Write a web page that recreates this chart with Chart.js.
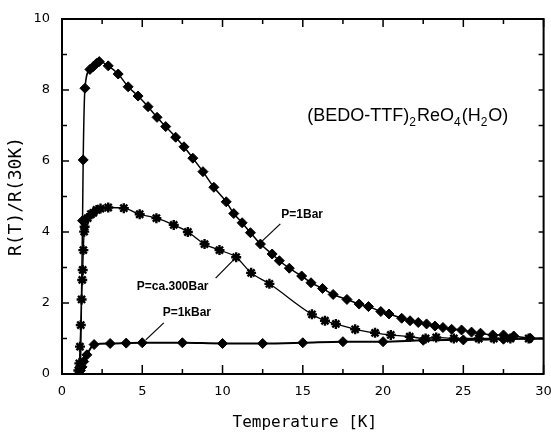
<!DOCTYPE html>
<html>
<head>
<meta charset="utf-8">
<script src="https://cdn.jsdelivr.net/npm/chart.js@4"></script>
<style>
  body { margin: 0; background: #fff; }
  canvas { display: block; }
</style>
</head>
<body>
<canvas id="chart" width="551" height="434"></canvas>
<script>
// values: temperature [K] and R(T)/R(30K)
const temp1Bar = [1.15, 1.28, 1.32, 1.43, 1.74, 1.95, 2.15, 2.32, 2.88, 3.5, 4.12, 4.74, 5.36, 5.92, 6.46, 7.08, 7.6, 8.15, 8.78, 9.46, 10.23, 10.7, 11.22, 11.74, 12.36, 13.09, 13.54, 14.16, 14.93, 15.51, 16.23, 16.89, 17.75, 18.51, 19.09, 19.86, 20.37, 21.16, 21.68, 22.19, 22.71, 23.23, 23.73, 24.27, 24.89, 25.51, 26.07, 26.83, 27.5, 28.14, 29.17, 30];
const r1Bar = [0.05, 4.32, 6.03, 8.05, 8.58, 8.66, 8.75, 8.8, 8.68, 8.45, 8.09, 7.83, 7.53, 7.23, 6.97, 6.67, 6.4, 6.08, 5.7, 5.26, 4.85, 4.52, 4.26, 3.98, 3.66, 3.38, 3.19, 2.98, 2.76, 2.57, 2.41, 2.24, 2.1, 1.97, 1.9, 1.76, 1.69, 1.57, 1.5, 1.45, 1.41, 1.35, 1.31, 1.26, 1.24, 1.18, 1.15, 1.1, 1.1, 1.07, 1.01, 1.0];

const temp300Bar = [1.02, 1.08, 1.12, 1.17, 1.22, 1.26, 1.29, 1.33, 1.38, 1.41, 1.44, 1.6, 1.8, 1.95, 2.15, 2.4, 2.88, 3.85, 4.84, 5.88, 6.96, 7.84, 8.88, 9.81, 10.85, 11.78, 12.92, 15.57, 16.38, 17.06, 18.26, 19.5, 20.48, 21.66, 22.65, 23.31, 24.41, 25.96, 26.9, 27.93, 29.07, 30];
const r300Bar = [0.1, 0.3, 0.77, 1.38, 2.1, 2.65, 2.93, 3.49, 4.01, 4.15, 4.34, 4.39, 4.5, 4.54, 4.62, 4.66, 4.69, 4.67, 4.5, 4.39, 4.2, 4.0, 3.66, 3.49, 3.29, 2.85, 2.54, 1.68, 1.5, 1.41, 1.26, 1.16, 1.1, 1.05, 1.0, 1.03, 1.0, 1.0, 1.0, 1.0, 1.0, 1.0];

const temp1kBar = [1.05, 1.15, 1.25, 1.35, 1.55, 2.0, 3.0, 4.0, 5.0, 7.5, 10, 12.5, 15, 17.5, 20, 22.5, 25, 27.5, 30];
const r1kBar = [0, 0.1, 0.2, 0.35, 0.54, 0.83, 0.86, 0.87, 0.88, 0.88, 0.86, 0.86, 0.88, 0.91, 0.91, 0.95, 0.96, 0.98, 1.0];

const xTicks = [0, 5, 10, 15, 20, 25, 30];
const yTicks = [0, 2, 4, 6, 8, 10];

const toPoints = (xs, ys) => xs.map((x, i) => ({ x: x, y: ys[i] }));

// labels with leader lines, placed in data coordinates
const notes = [
  { text: "P=1Bar", at: [13.66, 4.39], line: [[13.6, 4.23], [12.48, 3.75]] },
  { text: "P=ca.300Bar", at: [4.66, 2.37], line: [[10.81, 3.27], [9.57, 2.7]] },
  { text: "P=1kBar", at: [6.27, 1.63], line: [[6.34, 1.44], [5.22, 0.96]] },
];

const decor = {
  id: "decor",
  afterDraw(chart) {
    const ctx = chart.ctx;
    const xs = chart.scales.x, ys = chart.scales.y;
    const a = chart.chartArea;
    ctx.save();
    ctx.strokeStyle = "#000";
    ctx.lineWidth = 2;
    ctx.strokeRect(a.left, a.top, a.right - a.left, a.bottom - a.top);

    ctx.lineWidth = 1.5;
    ctx.beginPath();
    for (let v = 0; v <= 30; v += 2.5) {
      const p = xs.getPixelForValue(v);
      const major = v % 5 === 0;
      ctx.moveTo(p, a.bottom); ctx.lineTo(p, a.bottom - (major ? 9 : 5));
      ctx.moveTo(p, a.top); ctx.lineTo(p, a.top + (major ? 8 : 5));
    }
    for (let v = 0; v <= 10; v += 1) {
      const p = ys.getPixelForValue(v);
      const major = v % 2 === 0;
      ctx.moveTo(a.left, p); ctx.lineTo(a.left + (major ? 7 : 5), p);
      ctx.moveTo(a.right, p); ctx.lineTo(a.right - 5, p);
    }
    ctx.stroke();

    // curve labels
    ctx.fillStyle = "#000";
    ctx.font = "bold 12px 'Liberation Sans', Arial, sans-serif";
    ctx.textBaseline = "alphabetic";
    ctx.lineWidth = 1.2;
    notes.forEach((n) => {
      ctx.fillText(n.text, xs.getPixelForValue(n.at[0]), ys.getPixelForValue(n.at[1]));
      ctx.beginPath();
      ctx.moveTo(xs.getPixelForValue(n.line[0][0]), ys.getPixelForValue(n.line[0][1]));
      ctx.lineTo(xs.getPixelForValue(n.line[1][0]), ys.getPixelForValue(n.line[1][1]));
      ctx.stroke();
    });

    // compound formula with subscripts
    const parts = [["(BEDO-TTF)", 0], ["2", 1], ["ReO", 0], ["4", 1], ["(H", 0], ["2", 1], ["O)", 0]];
    let fx = xs.getPixelForValue(15.28);
    const fy = ys.getPixelForValue(7.13);
    parts.forEach(([t, sub]) => {
      ctx.font = sub ? "12px 'Liberation Sans', Arial, sans-serif" : "18px 'Liberation Sans', Arial, sans-serif";
      ctx.fillText(t, fx, fy + (sub ? 5 : 0));
      fx += ctx.measureText(t).width + (sub ? 1 : 0);
    });

    // axis titles
    ctx.font = "16px 'DejaVu Sans Mono', monospace";
    ctx.textAlign = "center";
    ctx.textBaseline = "middle";
    ctx.fillText("Temperature [K]", (a.left + a.right) / 2 + 2, 423);
    ctx.translate(16, (a.top + a.bottom) / 2);
    ctx.rotate(-Math.PI / 2);
    ctx.font = "18px 'DejaVu Sans Mono', monospace";
    ctx.fillText("R(T)/R(30K)", 0, 0);
    ctx.restore();
  },
};

const hideEnds = (first) => (c) => {
  const x = c.raw ? c.raw.x : 0;
  if (x >= 30) return 0;
  if (first && c.dataIndex === 0) return 0;
  return undefined;
};

new Chart(document.getElementById("chart"), {
  type: "scatter",
  data: {
    datasets: [
      {
        label: "P=1Bar",
        data: toPoints(temp1Bar, r1Bar),
        showLine: true,
        cubicInterpolationMode: "monotone",
        borderColor: "#000",
        backgroundColor: "#000",
        borderWidth: 1.5,
        pointStyle: "rectRot",
        pointRadius: (c) => hideEnds(true)(c) ?? 5,
        pointBorderWidth: 1,
      },
      {
        label: "P=ca.300Bar",
        data: toPoints(temp300Bar, r300Bar),
        showLine: true,
        cubicInterpolationMode: "monotone",
        borderColor: "#000",
        backgroundColor: "#000",
        borderWidth: 1.3,
        pointStyle: "star",
        pointRadius: (c) => hideEnds(false)(c) ?? 5,
        pointBorderWidth: 2.4,
      },
      {
        label: "P=1kBar",
        data: toPoints(temp1kBar, r1kBar),
        showLine: true,
        cubicInterpolationMode: "monotone",
        borderColor: "#000",
        backgroundColor: "#000",
        borderWidth: 2,
        pointStyle: "rectRot",
        pointRadius: (c) => hideEnds(false)(c) ?? 5,
        pointBorderWidth: 1,
      },
    ],
  },
  options: {
    responsive: false,
    animation: false,
    layout: { padding: { top: 19, right: 6, left: 0, bottom: 0 } },
    plugins: { legend: { display: false }, tooltip: { enabled: false } },
    scales: {
      x: {
        type: "linear",
        min: 0,
        max: 30,
        afterFit: (s) => { s.height = 60; s.paddingLeft = 0; s.paddingRight = 0; },
        afterBuildTicks: (s) => { s.ticks = xTicks.map((v) => ({ value: v })); },
        ticks: { color: "#000", padding: 10, font: { family: "'DejaVu Sans', sans-serif", size: 13 } },
        grid: { display: true, drawOnChartArea: false, drawTicks: false },
        border: { display: false },
      },
      y: {
        type: "linear",
        min: 0,
        max: 10,
        afterFit: (s) => { s.width = 62; s.paddingTop = 0; s.paddingBottom = 0; },
        afterBuildTicks: (s) => { s.ticks = yTicks.map((v) => ({ value: v })); },
        ticks: { color: "#000", padding: 12, font: { family: "'DejaVu Sans', sans-serif", size: 13 } },
        grid: { display: true, drawOnChartArea: false, drawTicks: false },
        border: { display: false },
      },
    },
  },
  plugins: [decor],
});
</script>
</body>
</html>
